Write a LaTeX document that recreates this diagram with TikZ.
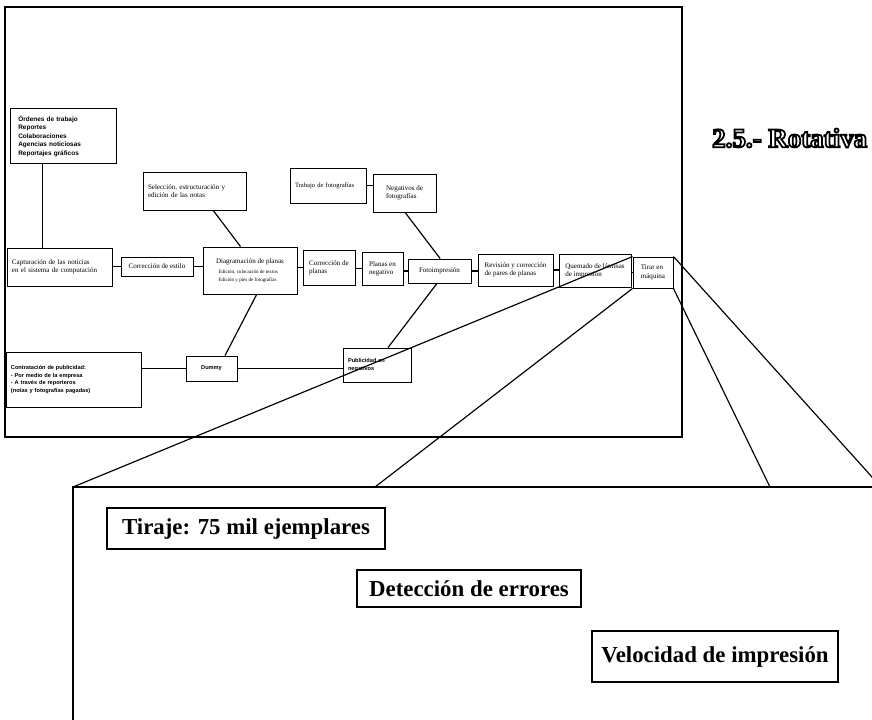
\documentclass[tikz,border=0pt]{standalone}
\usepackage{fontspec}
\setmainfont{Liberation Serif}
\setsansfont{Liberation Sans}
\usetikzlibrary{calc}

\tikzset{
  caja/.style={draw,line width=.8pt,inner sep=1.5pt,align=left,font=\fontsize{6}{7}\selectfont},
  cajan/.style={caja,font=\sffamily\bfseries\fontsize{4.8}{6.6}\selectfont},
  izq/.style={inner xsep=1.5mm,text width=#1},
  grande/.style={draw,line width=1.2pt,inner sep=3pt,font=\bfseries\fontsize{19.5}{22}\selectfont},
  linea/.style={line width=1pt},
  marco/.style={line width=1.3pt}
}
% outlined title text
\newcommand{\hueco}[1]{{\color{white}\special{pdf:literal direct 0 G 2 Tr 1.5 w}#1\special{pdf:literal direct 0 Tr}}}

\begin{document}
\begin{tikzpicture}[x=0.3mm,y=-0.3mm]
\useasboundingbox (0,0) rectangle (872,720);
\clip (0,0) rectangle (872,720);
% upper frame
\draw[marco] (5,7) rectangle (682,437);
\node[anchor=west,inner sep=0pt,font=\bfseries\fontsize{23}{25}\selectfont](titulo) at (712,138)
  {\hueco{2.5.- Rotativa}};

% boxes
\node[cajan,izq=26.8mm,inner xsep=2.5mm,minimum width=31.8mm,minimum height=16.5mm,font=\sffamily\bfseries\fontsize{5.5}{7.3}\selectfont](ordenes) at (63,136)
  {Órdenes de trabajo\\Reportes\\Colaboraciones\\Agencias noticiosas\\Reportajes gráficos};
\node[caja,izq=28.5mm,minimum width=31.5mm,minimum height=11.4mm](capt) at (59.5,267)
  {Capturación de las noticias\\en el sistema de computación};
\node[caja,minimum width=21.6mm,minimum height=5.7mm](estilo) at (157,266.5)
  {Corrección de estilo};
\node[caja,minimum width=28.2mm,minimum height=14.1mm](diag) at (250,270.5)
  {Diagramación de planas\\[2pt]
   {\fontsize{4.3}{5}\selectfont\ \ Edición, colocación de textos}\\
   {\fontsize{4.3}{5}\selectfont\ \ Edición y pies de fotografías}};
\node[caja,izq=27.9mm,minimum width=30.9mm,minimum height=11.4mm](selec) at (194.5,191)
  {Selección, estructuración y\\edición de las notas};
\node[caja,minimum width=15.6mm,minimum height=10.5mm](corrpl) at (329,267.5)
  {Corrección de\\planas};
\node[caja,minimum width=12.3mm,minimum height=9.9mm](plneg) at (382.5,268.5)
  {Planas en\\negativo};
\node[caja,minimum width=18.9mm,minimum height=7.2mm](foto) at (439.5,271)
  {Fotoimpresión};
\node[caja,minimum width=22.5mm,minimum height=9.6mm](revis) at (515.5,270)
  {Revisión y corrección\\de pares de planas};
\node[caja,minimum width=21.6mm,minimum height=9.9mm](quem) at (595,270.5)
  {Quemado de láminas\\de impresión};
\node[caja,minimum width=12mm,minimum height=9.3mm](tirar) at (653,272.5)
  {Tirar en\\máquina};
\node[caja,izq=19.8mm,minimum width=22.8mm,minimum height=10.5mm,font=\fontsize{5.6}{7}\selectfont](trab) at (328,185.5)
  {Trabajo de fotografías};
\node[caja,minimum width=18.9mm,minimum height=11.4mm](negfot) at (404.5,193)
  {Negativos de\\fotografías};
\node[cajan,izq=37.5mm,minimum width=40.5mm,minimum height=16.5mm](contr) at (73.5,379.5)
  {Contratación de publicidad:\\- Por medio de la empresa\\- A través de reporteros\\(notas y fotografías pagadas)};
\node[cajan,minimum width=15.3mm,minimum height=7.5mm](dummy) at (211.5,368.5)
  {Dummy};
\node[cajan,izq=17.4mm,minimum width=20.4mm,minimum height=10.2mm](public) at (377,365)
  {Publicidad en\\negativos};

% connections
\draw[linea] ($(ordenes.south west)!.31!(ordenes.south east)$) coordinate (o1) -- (o1 |- capt.north);
\draw[linea] (capt.east |- estilo.west) -- (estilo.west);
\draw[linea] (estilo.east) -- (estilo.east -| diag.west);
\draw[linea] (diag.east |- corrpl.west) -- (corrpl.west);
\draw[linea] (corrpl.east |- plneg.west) -- (plneg.west);
\draw[linea] (plneg.east |- foto.west) -- (foto.west);
\draw[linea] (foto.east) -- (foto.east -| revis.west);
\draw[linea] (revis.east) -- (revis.east -| quem.west);
\draw[linea] (quem.east |- tirar.west) -- (tirar.west);
\draw[linea] ($(selec.south west)!.68!(selec.south east)$) -- ($(diag.north west)!.4!(diag.north east)$);
\draw[linea] ($(diag.south west)!.57!(diag.south east)$) -- ($(dummy.north west)!.76!(dummy.north east)$);
\draw[linea] (trab.east) -- (trab.east -| negfot.west);
\draw[linea] ($(negfot.south west)!.51!(negfot.south east)$) -- ($(foto.north west)!.51!(foto.north east)$);
\draw[linea] ($(public.north west)!.66!(public.north east)$) -- ($(foto.south west)!.46!(foto.south east)$);
\draw[linea] (contr.east |- dummy.west) -- (dummy.west);
\draw[linea] (dummy.east) -- (dummy.east -| public.west);

% lower frame
\coordinate (esq) at (73,487);
\coordinate (b1) at (375,487);
\coordinate (b2) at (770,487);
\coordinate (b3) at (881,487);
\draw[marco] (73,740) -- (esq) -- (900,487);
\draw[linea] (tirar.north west) -- (esq);
\draw[linea] (tirar.south west) -- (b1);
\draw[linea] (tirar.south east) -- (b2);
\draw[linea] (tirar.north east) -- (b3);

\node[grande,minimum width=83.4mm,minimum height=12.3mm](tiraje) at (246,528.5)
  {Tiraje: 75 mil ejemplares};
\node[grande,minimum width=67.2mm,minimum height=11.1mm](deteccion) at (469,588.5)
  {Detección de errores};
\node[grande,minimum width=73.8mm,minimum height=15.3mm](velocidad) at (715,656.5)
  {Velocidad de impresión};
\end{tikzpicture}
\end{document}
